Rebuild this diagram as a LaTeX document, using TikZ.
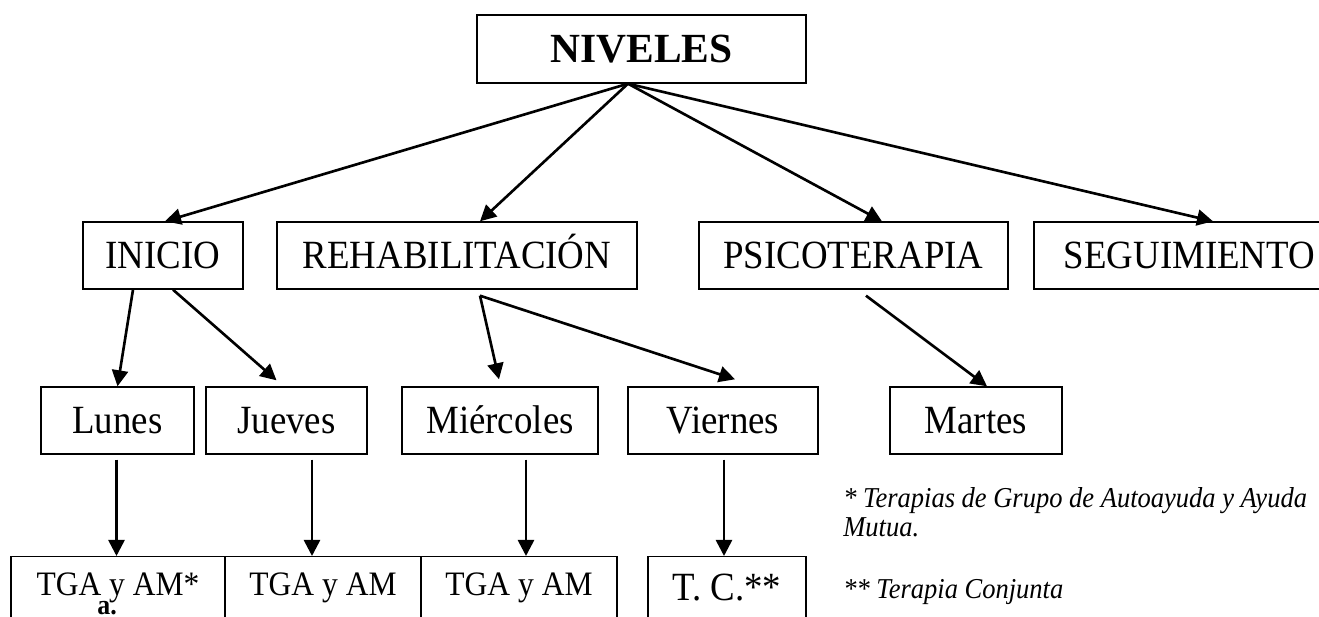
\documentclass[tikz,border=0pt]{standalone}
\usepackage{fontspec}
\setmainfont{Liberation Serif}[FakeStretch=0.92]
\newfontfamily\titlefont{Liberation Serif}
\usetikzlibrary{arrows.meta,calc}

\begin{document}
\begin{tikzpicture}[
  x=0.02cm, y=-0.02cm,
  every node/.style={
    inner sep=0pt,
  },
  box/.style={
    draw, line width=0.8pt,
    minimum height=1.34cm,
    text height=0.53cm, text depth=0pt,
    font=\fontsize{22.8}{26}\selectfont,
  },
  lowbox/.style={
    draw, line width=0.8pt, anchor=north,
    text height=0.78cm, text depth=1.6cm,
    font=\fontsize{19.5}{23}\selectfont,
  },
  link/.style={
    line width=1.5pt,
    -{Triangle[length=0.32cm,width=0.32cm]},
  },
  note/.style={
    font=\fontsize{16.4}{17}\selectfont\itshape,
    align=left,
  }
]
\clip (0,0) rectangle (1319,617);
\node[box, minimum width=6.58cm, minimum height=1.36cm, text height=0.56cm,
  font=\titlefont\bfseries\fontsize{23.6}{28}\selectfont] (niveles) at (641.5,49) {NIVELES};
% niveles
\foreach \name/\cx/\w/\txt in {inicio/163/3.2/INICIO,
    rehab/457/7.2/REHABILITACIÓN,
    psico/853.5/6.18/PSICOTERAPIA,
    seg/1189.5/6.22/SEGUIMIENTO} {
  \node[box, minimum width=\w cm] (\name) at (\cx,255.5) {\txt};
}
% dias
\foreach \name/\cx/\w/\txt in {lunes/117.5/3.06/Lunes,
    jueves/286.5/3.22/Jueves,
    miercoles/500/3.92/Miércoles,
    viernes/723/3.8/Viernes,
    martes/976/3.44/Martes} {
  \node[box, minimum width=\w cm] (\name) at (\cx,420.5) {\txt};
}
% terapias
\foreach \name/\cx/\w/\txt in {tga1/118/4.28/TGA y AM*,
    tga2/323/3.92/TGA y AM,
    tga3/519/3.92/TGA y AM} {
  \node[lowbox, minimum width=\w cm] (\name) at (\cx,556) {\txt};
}
\node[lowbox, minimum width=3.16cm, text height=0.88cm,
  font=\fontsize{22.8}{26}\selectfont] (tc) at (727,556) {T. C.**};
\node[font=\bfseries\fontsize{16}{19}\selectfont, anchor=base west] (marca) at (97,615) {a.};

\foreach \dest/\dx in {inicio/2, rehab/23, psico/28.5, seg/23.5}
  \draw[link] ($(niveles.south)+(-13.5,0)$) -- ($(\dest.north)+(\dx,0)$);

\draw[link] ($(inicio.south)+(-30,0)$) -- (lunes.north);
\draw[link] ($(inicio.south)+(10,0)$) -- ($(jueves.north)+(-10,-6)$);
\draw[link] ($(rehab.south)+(23,6)$) -- ($(miercoles.north)+(-1,-7)$);
\draw[link] ($(rehab.south)+(23,6)$) -- ($(viernes.north)+(12,-7)$);
\draw[link] ($(psico.south)+(12.5,6)$) -- ($(martes.north)+(11,0)$);

\foreach \src/\dst/\dx in {lunes/tga1/-1, jueves/tga2/25.5, miercoles/tga3/26, viernes/tc/1}
  \draw[link] ($(\src.south)+(\dx,5)$) coordinate (top) -- (top |- \dst.north);

\node[note, anchor=base west] (nota1) at (843,537) {* Terapias de Grupo de Autoayuda y Ayuda\\Mutua.};
\node[note, anchor=base west] (nota2) at (843,599) {** Terapia Conjunta};
\end{tikzpicture}
\end{document}
